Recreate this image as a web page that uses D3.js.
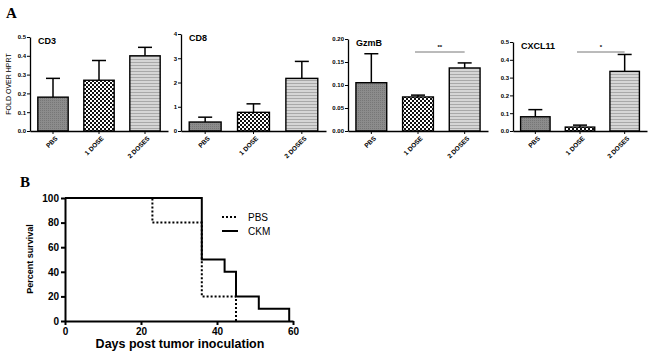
<!DOCTYPE html>
<html>
<head>
<meta charset="utf-8">
<script src="https://cdn.jsdelivr.net/npm/d3@7"></script>
<style>
  body { margin: 0; background: #fff; }
  svg { display: block; font-family: "Liberation Sans", Arial, sans-serif; }
</style>
</head>
<body>
<svg id="fig" width="650" height="354"></svg>
<script>
// ---- data ----
const groups = ["PBS", "1 DOSE", "2 DOSES"];
const panelNames = ["CD3", "CD8", "GzmB", "CXCL11"];
const cd3Means = [0.18, 0.27, 0.40];
const cd3Errs = [0.28, 0.375, 0.445];
const cd8Means = [0.37, 0.77, 2.17];
const cd8Errs = [0.57, 1.12, 2.87];
const gzmbMeans = [0.105, 0.074, 0.137];
const gzmbErrs = [0.168, 0.078, 0.148];
const cxcl11Means = [0.08, 0.022, 0.335];
const cxcl11Errs = [0.12, 0.033, 0.43];

const pbsSurvival = [[0, 100], [23, 100], [23, 80], [36, 80], [36, 20], [45, 20], [45, 0]];
const ckmSurvival = [[0, 100], [36, 100], [36, 50], [42, 50], [42, 40], [45, 40], [45, 20], [51, 20], [51, 10], [59, 10], [59, 0]];
const survivalTicks = [0, 20, 40, 60, 80, 100];
const dayTicks = [0, 20, 40, 60];

const svg = d3.select("#fig");

// patterns for the three groups
const defs = svg.append("defs");
const p1 = defs.append("pattern").attr("id", "pat0").attr("patternUnits", "userSpaceOnUse")
    .attr("width", 2).attr("height", 2);
p1.append("rect").attr("width", 2).attr("height", 2).attr("fill", "#8c8c8c");
p1.append("rect").attr("width", 1).attr("height", 1).attr("fill", "#777");

const p2 = defs.append("pattern").attr("id", "pat1").attr("patternUnits", "userSpaceOnUse")
    .attr("width", 4).attr("height", 4);
p2.append("rect").attr("width", 4).attr("height", 4).attr("fill", "#fff");
p2.append("rect").attr("width", 2).attr("height", 2).attr("fill", "#111");
p2.append("rect").attr("x", 2).attr("y", 2).attr("width", 2).attr("height", 2).attr("fill", "#111");

const p3 = defs.append("pattern").attr("id", "pat2").attr("patternUnits", "userSpaceOnUse")
    .attr("width", 3).attr("height", 3);
p3.append("rect").attr("width", 3).attr("height", 3).attr("fill", "#d6d6d6");
p3.append("rect").attr("y", 2).attr("width", 3).attr("height", 1).attr("fill", "#a9a9a9");

// panel labels
svg.append("text").attr("x", 6).attr("y", 18).text("A")
    .style("font-family", "Liberation Serif, serif").style("font-weight", "bold").style("font-size", "15px");
svg.append("text").attr("x", 20).attr("y", 187).text("B")
    .style("font-family", "Liberation Serif, serif").style("font-weight", "bold").style("font-size", "15px");

// y label for panel A
svg.append("text")
    .attr("transform", "translate(11,84) rotate(-90)")
    .attr("text-anchor", "middle")
    .style("font-size", "7px").style("fill", "#000")
    .text("FOLD OVER HPRT");

const panels = [
    { name: panelNames[0], means: cd3Means, errs: cd3Errs, x0: 30, x1: 168, yTop: 37, max: 0.5, ticks: d3.range(0, 0.51, 0.1), fmt: d3.format(".1f"), sig: null },
    { name: panelNames[1], means: cd8Means, errs: cd8Errs, x0: 181, x1: 326, yTop: 34, max: 4, ticks: [0, 1, 2, 3, 4], fmt: d3.format("d"), sig: null },
    { name: panelNames[2], means: gzmbMeans, errs: gzmbErrs, x0: 348, x1: 488, yTop: 39, max: 0.2, ticks: [0, 0.05, 0.1, 0.15, 0.2], fmt: d3.format(".2f"), sig: "**" },
    { name: panelNames[3], means: cxcl11Means, errs: cxcl11Errs, x0: 513, x1: 647, yTop: 42, max: 0.5, ticks: d3.range(0, 0.51, 0.1), fmt: d3.format(".1f"), sig: "*" }
];

const yBottom = 131;

panels.forEach(p => {
    const g = svg.append("g");
    const x = d3.scaleBand().domain(groups).range([p.x0, p.x1]).paddingInner(0.34).paddingOuter(0.17);
    const y = d3.scaleLinear().domain([0, p.max]).range([yBottom, p.yTop]);
    const cx = d => x(d) + x.bandwidth() / 2;

    // error bars (upper only)
    g.selectAll(".err").data(groups).enter().append("line")
        .attr("x1", cx).attr("x2", cx)
        .attr("y1", (d, i) => y(p.means[i])).attr("y2", (d, i) => y(p.errs[i]))
        .attr("stroke", "#000").attr("stroke-width", 1.5);
    g.selectAll(".cap").data(groups).enter().append("line")
        .attr("x1", d => cx(d) - 7).attr("x2", d => cx(d) + 7)
        .attr("y1", (d, i) => y(p.errs[i])).attr("y2", (d, i) => y(p.errs[i]))
        .attr("stroke", "#000").attr("stroke-width", 1.5);

    g.selectAll(".bar").data(groups).enter().append("rect")
        .attr("x", d => x(d)).attr("width", x.bandwidth())
        .attr("y", (d, i) => y(p.means[i])).attr("height", (d, i) => yBottom - y(p.means[i]))
        .attr("fill", (d, i) => `url(#pat${i})`)
        .attr("stroke", "#000").attr("stroke-width", 1.4);

    // axes
    const ya = g.append("g").attr("transform", `translate(${p.x0},0)`)
        .call(d3.axisLeft(y).tickValues(p.ticks).tickFormat(p.fmt).tickSize(3).tickSizeOuter(0));
    const xa = g.append("g").attr("transform", `translate(0,${yBottom})`)
        .call(d3.axisBottom(x).tickSize(3).tickSizeOuter(0));
    [ya, xa].forEach(a => {
        a.select(".domain").attr("stroke-width", 1.3);
        a.selectAll("text").style("font-size", "6px").style("font-weight", "bold").style("fill", "#000");
    });
    ya.selectAll("text").attr("x", -4);
    xa.selectAll("text")
        .style("font-size", "6.5px")
        .style("text-anchor", "end")
        .attr("dx", "-0.3em").attr("dy", "0.5em")
        .attr("transform", "rotate(-45)");

    g.append("text").attr("x", p.x0 + 8).attr("y", p.yTop + 7)
        .style("font-size", "9px").style("font-weight", "bold").style("fill", "#000").text(p.name);

    if (p.sig) {
        const sx0 = cx(groups[1]) - 3;
        const sx1 = cx(groups[2]);
        g.append("line").attr("x1", sx0).attr("x2", sx1).attr("y1", 52).attr("y2", 52)
            .attr("stroke", "#777").attr("stroke-width", 1);
        g.append("text").attr("x", (sx0 + sx1) / 2).attr("y", 49).attr("text-anchor", "middle")
            .style("font-size", "6px").style("font-weight", "bold").style("fill", "#000").text(p.sig);
    }
});

// ---- panel B: survival ----
const sx = d3.scaleLinear().domain([0, 60]).range([65, 293]);
const sy = d3.scaleLinear().domain([0, 100]).range([321, 198]);
const gb = svg.append("g");

const line = d3.line().x(d => sx(d[0])).y(d => sy(d[1]));
gb.append("path").datum(pbsSurvival).attr("d", line)
    .attr("fill", "none").attr("stroke", "#000").attr("stroke-width", 2).attr("stroke-dasharray", "2,2");
gb.append("path").datum(ckmSurvival).attr("d", line)
    .attr("fill", "none").attr("stroke", "#000").attr("stroke-width", 2);

const bx = gb.append("g").attr("transform", "translate(0,321)")
    .call(d3.axisBottom(sx).tickValues(dayTicks).tickSize(4).tickSizeOuter(0));
const by = gb.append("g").attr("transform", "translate(65,0)")
    .call(d3.axisLeft(sy).tickValues(survivalTicks).tickSize(4).tickSizeOuter(0));
[bx, by].forEach(a => {
    a.select(".domain").attr("stroke-width", 2);
    a.selectAll(".tick line").attr("stroke-width", 2);
    a.selectAll("text").style("font-size", "10px").style("font-weight", "bold").style("fill", "#000");
});
by.selectAll("text").attr("x", -6);

gb.append("text").attr("x", 180).attr("y", 348).attr("text-anchor", "middle")
    .style("font-size", "12.5px").style("font-weight", "bold").text("Days post tumor inoculation");
gb.append("text").attr("transform", "translate(33,259) rotate(-90)").attr("text-anchor", "middle")
    .style("font-size", "9px").style("font-weight", "bold").text("Percent survival");

// legend
const legendItems = [{ label: "PBS", dash: "2,2", y: 217 }, { label: "CKM", dash: null, y: 231 }];
legendItems.forEach(l => {
    gb.append("line").attr("x1", 222).attr("x2", 238).attr("y1", l.y).attr("y2", l.y)
        .attr("stroke", "#000").attr("stroke-width", 2).attr("stroke-dasharray", l.dash);
    gb.append("text").attr("x", 248).attr("y", l.y + 4)
        .style("font-size", "10px").text(l.label);
});
</script>
</body>
</html>
